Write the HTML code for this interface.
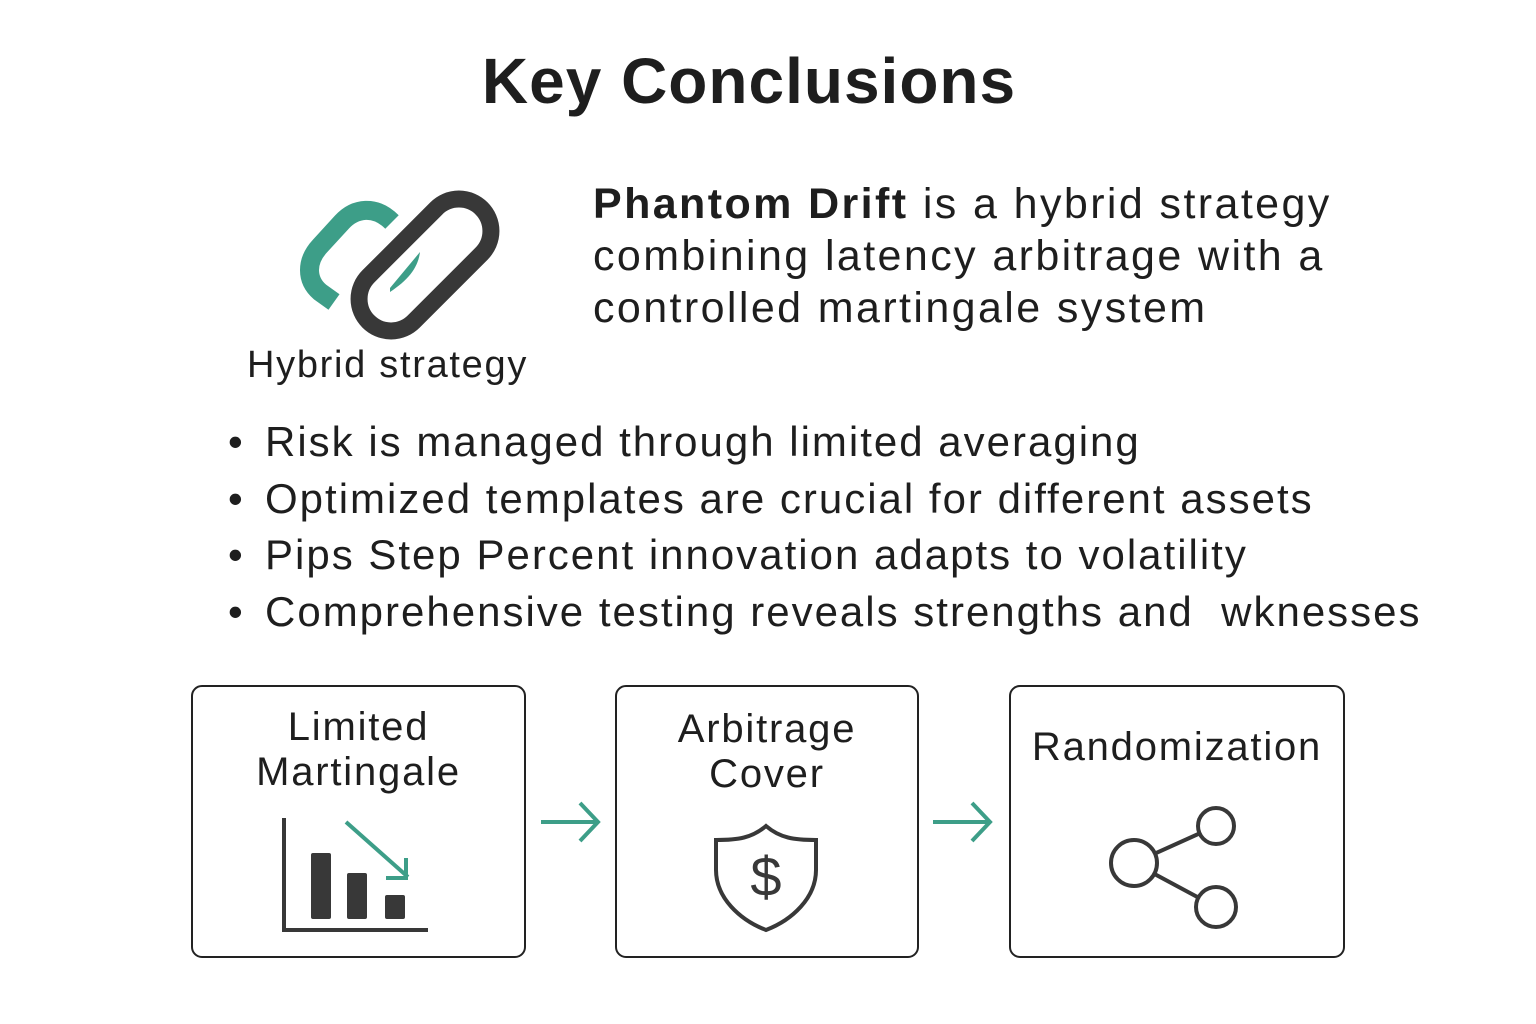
<!DOCTYPE html>
<html><head><meta charset="utf-8"><style>
body{margin:0;width:1536px;height:1024px;background:#fff;position:relative;font-family:"Liberation Sans",sans-serif;color:#1e1e1e;overflow:hidden}
.a{position:absolute;white-space:nowrap}
.box{position:absolute;border:2.5px solid #222;border-radius:11px;box-sizing:border-box;top:685px;height:273px}
.bt{position:absolute;left:0;right:0;text-align:center;font-size:40px;line-height:45px;letter-spacing:1.8px}
</style></head><body>
<div class="a" style="left:0;width:1498px;text-align:center;top:44px;font-size:64px;font-weight:bold;letter-spacing:1px">Key Conclusions</div>
<svg class="a" style="left:0;top:0" width="600" height="400">
<path d="M392 222 C375 205 355 208 342 222 L320 246 C306 261 306 280 320 292 L334 302" fill="none" stroke="#3d9e88" stroke-width="19"/>
<rect x="345" y="233" width="160" height="64" rx="32" transform="rotate(-45 425 265)" fill="none" stroke="#383838" stroke-width="17"/>
<path d="M390 288 L420 252 C418 268 408 280 390 292Z" fill="#3d9e88"/>
</svg>
<div class="a" style="left:247px;top:344px;font-size:38px;letter-spacing:1.7px">Hybrid strategy</div>
<div class="a" style="left:593px;top:178px;font-size:43px;line-height:52px;letter-spacing:2.4px"><b>Phantom Drift</b> is a hybrid strategy<br>combining latency arbitrage with a<br>controlled martingale system</div>
<div class="a" style="left:228px;top:414px;font-size:42px;line-height:56.5px;">•<br>•<br>•<br>•</div>
<div class="a" style="left:265px;top:414px;font-size:42px;line-height:56.5px;letter-spacing:2px">Risk is managed through limited averaging<br>Optimized templates are crucial for different assets<br>Pips Step Percent innovation adapts to volatility<br>Comprehensive testing reveals strengths and &nbsp;wknesses</div>
<div class="box" style="left:191px;width:335px"><div class="bt" style="top:18px">Limited<br>Martingale</div></div>
<div class="box" style="left:615px;width:304px"><div class="bt" style="top:20px">Arbitrage<br>Cover</div></div>
<div class="box" style="left:1009px;width:336px"><div class="bt" style="top:38px">Randomization</div></div>
<svg class="a" style="left:0;top:0" width="1536" height="1024">
<g stroke="#3d9e88" stroke-width="4" fill="none">
<path d="M541 822 H598 M580 803 L598 822 L580 841"/>
<path d="M933 822 H990 M972 803 L990 822 L972 841"/>
<path d="M346 822 L408 877 M406 858 V878 H386"/>
</g>
<g fill="#383838">
<rect x="311" y="853" width="20" height="66" rx="2"/>
<rect x="347" y="873" width="20" height="46" rx="2"/>
<rect x="385" y="895" width="20" height="24" rx="2"/>
</g>
<path d="M284 818 V930 H428" stroke="#383838" stroke-width="4" fill="none"/>
<path d="M766 826 C752 838 738 840 716 840 V870 C716 898 740 920 766 930 C792 920 816 898 816 870 V840 C794 840 780 838 766 826Z" stroke="#383838" stroke-width="4" fill="none"/>
<text x="766" y="896" text-anchor="middle" font-family="Liberation Sans" font-size="56" fill="#383838">$</text>
<g stroke="#383838" stroke-width="4" fill="#fff">
<path d="M1134 863 L1216 826 M1134 863 L1216 907"/>
<circle cx="1134" cy="863" r="23"/><circle cx="1216" cy="826" r="18"/><circle cx="1216" cy="907" r="20"/>
</g>
</svg>
</body></html>
